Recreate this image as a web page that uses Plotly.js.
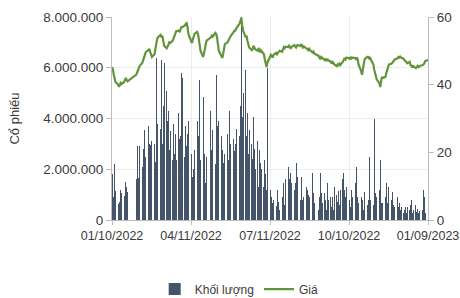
<!DOCTYPE html>
<html><head><meta charset="utf-8">
<script src="https://cdn.plot.ly/plotly-3.0.1.min.js"></script>
<style>html,body{margin:0;padding:0;background:#fff}#chart{width:460px;height:298px}</style>
</head><body><div id="chart"></div>
<script>
// Trading days (mm/dd/yyyy axis labels)
const dates = [
"2022-01-10","2022-01-11","2022-01-12","2022-01-13","2022-01-14","2022-01-17","2022-01-18","2022-01-19","2022-01-20","2022-01-21","2022-01-24","2022-01-25","2022-01-26","2022-01-27","2022-01-28",
"2022-02-07","2022-02-08","2022-02-09","2022-02-10","2022-02-11","2022-02-14","2022-02-15","2022-02-16","2022-02-17","2022-02-18","2022-02-21","2022-02-22","2022-02-23","2022-02-24","2022-02-25","2022-02-28",
"2022-03-01","2022-03-02","2022-03-03","2022-03-04","2022-03-07","2022-03-08","2022-03-09","2022-03-10","2022-03-11","2022-03-14","2022-03-15","2022-03-16","2022-03-17","2022-03-18","2022-03-21","2022-03-22","2022-03-23","2022-03-24","2022-03-25","2022-03-28","2022-03-29","2022-03-30","2022-03-31",
"2022-04-01","2022-04-04","2022-04-05","2022-04-06","2022-04-07","2022-04-08","2022-04-12","2022-04-13","2022-04-14","2022-04-15","2022-04-18","2022-04-19","2022-04-20","2022-04-21","2022-04-22","2022-04-25","2022-04-26","2022-04-27","2022-04-28","2022-04-29",
"2022-05-04","2022-05-05","2022-05-06","2022-05-09","2022-05-10","2022-05-11","2022-05-12","2022-05-13","2022-05-16","2022-05-17","2022-05-18","2022-05-19","2022-05-20","2022-05-23","2022-05-24","2022-05-25","2022-05-26","2022-05-27","2022-05-30","2022-05-31",
"2022-06-01","2022-06-02","2022-06-03","2022-06-06","2022-06-07","2022-06-08","2022-06-09","2022-06-10","2022-06-13","2022-06-14","2022-06-15","2022-06-16","2022-06-17","2022-06-20","2022-06-21","2022-06-22","2022-06-23","2022-06-24","2022-06-27","2022-06-28","2022-06-29","2022-06-30",
"2022-07-01","2022-07-04","2022-07-05","2022-07-06","2022-07-07","2022-07-08","2022-07-11","2022-07-12","2022-07-13","2022-07-14","2022-07-15","2022-07-18","2022-07-19","2022-07-20","2022-07-21","2022-07-22","2022-07-25","2022-07-26","2022-07-27","2022-07-28","2022-07-29",
"2022-08-01","2022-08-02","2022-08-03","2022-08-04","2022-08-05","2022-08-08","2022-08-09","2022-08-10","2022-08-11","2022-08-12","2022-08-15","2022-08-16","2022-08-17","2022-08-18","2022-08-19","2022-08-22","2022-08-23","2022-08-24","2022-08-25","2022-08-26","2022-08-29","2022-08-30","2022-08-31",
"2022-09-05","2022-09-06","2022-09-07","2022-09-08","2022-09-09","2022-09-12","2022-09-13","2022-09-14","2022-09-15","2022-09-16","2022-09-19","2022-09-20","2022-09-21","2022-09-22","2022-09-23","2022-09-26","2022-09-27","2022-09-28","2022-09-29","2022-09-30",
"2022-10-03","2022-10-04","2022-10-05","2022-10-06","2022-10-07","2022-10-10","2022-10-11","2022-10-12","2022-10-13","2022-10-14","2022-10-17","2022-10-18","2022-10-19","2022-10-20","2022-10-21","2022-10-24","2022-10-25","2022-10-26","2022-10-27","2022-10-28","2022-10-31",
"2022-11-01","2022-11-02","2022-11-03","2022-11-04","2022-11-07","2022-11-08","2022-11-09","2022-11-10","2022-11-11","2022-11-14","2022-11-15","2022-11-16","2022-11-17","2022-11-18","2022-11-21","2022-11-22","2022-11-23","2022-11-24","2022-11-25","2022-11-28","2022-11-29","2022-11-30",
"2022-12-01","2022-12-02","2022-12-05","2022-12-06","2022-12-07","2022-12-08","2022-12-09","2022-12-12","2022-12-13","2022-12-14","2022-12-15","2022-12-16","2022-12-19","2022-12-20","2022-12-21","2022-12-22","2022-12-23","2022-12-26","2022-12-27","2022-12-28","2022-12-29","2022-12-30",
"2023-01-03","2023-01-04","2023-01-05","2023-01-06","2023-01-09"
];

// Khối lượng (shares)
const volume = [
2700000,1800000,900000,2200000,1150000,650000,600000,700000,1200000,1050000,950000,1000000,1500000,1300000,1100000,
1600000,2900000,1650000,1500000,2900000,2100000,2800000,3550000,3200000,2500000,3700000,3000000,2950000,2400000,3100000,3000000,
2300000,6400000,3800000,4850000,3600000,6300000,3000000,4500000,6200000,5100000,3900000,4300000,2750000,3500000,2350000,3800000,2600000,3400000,2350000,4200000,3200000,3300000,5800000,
5600000,2500000,3700000,2900000,3400000,3900000,2600000,1700000,2000000,2750000,2000000,3900000,3300000,5500000,2350000,4850000,2600000,1850000,1450000,2500000,
4300000,2750000,3550000,2200000,5700000,3700000,2350000,3900000,3300000,2750000,2250000,3800000,2600000,3400000,2350000,4300000,3000000,2000000,3200000,2700000,
3000000,3600000,4500000,3300000,4500000,8000000,4050000,5000000,5900000,3300000,4200000,2600000,3550000,3000000,2400000,4050000,2800000,2000000,3100000,1300000,2750000,2250000,
2000000,1300000,2350000,1800000,1200000,6000000,1700000,1200000,900000,670000,800000,550000,400000,1200000,700000,400000,900000,1100000,1450000,600000,1600000,
2100000,1600000,1200000,1850000,1450000,1200000,1450000,800000,2250000,1700000,800000,1700000,800000,1450000,900000,1300000,1200000,1000000,400000,900000,1850000,1050000,670000,
400000,900000,1850000,1050000,670000,1050000,800000,400000,1450000,800000,900000,500000,900000,400000,1300000,1000000,700000,1150000,600000,1200000,
1600000,1850000,1200000,900000,1300000,1050000,800000,500000,1200000,900000,1450000,670000,2100000,900000,670000,900000,500000,800000,400000,1100000,600000,
800000,400000,2500000,800000,600000,4000000,670000,1050000,900000,1200000,2350000,670000,400000,670000,900000,1450000,670000,1300000,500000,800000,1100000,600000,
500000,800000,900000,500000,670000,400000,500000,270000,400000,500000,270000,500000,400000,600000,800000,270000,400000,600000,300000,450000,270000,350000,
400000,1200000,900000,270000,2100000
];

// Giá
const price = [
45.2,44.5,43.0,41.8,40.8,40.0,39.4,39.8,40.5,40.2,40.8,41.5,42.0,41.3,41.0,
43.0,43.8,44.5,45.0,45.6,46.5,47.5,47.9,48.8,49.7,50.2,50.6,49.7,48.8,48.2,49.0,
51.0,52.5,53.5,54.0,54.7,54.0,54.5,53.0,51.5,50.8,51.2,51.8,52.5,52.3,53.0,53.8,54.5,55.0,55.8,56.0,55.5,56.5,57.0,
57.0,57.5,58.0,58.2,57.0,55.0,52.3,53.0,54.0,55.0,55.6,55.0,53.5,51.5,50.0,48.2,49.0,50.5,52.0,53.0,
54.0,54.5,54.2,55.3,55.0,54.0,52.0,50.0,48.5,47.9,49.0,50.5,52.0,52.5,53.0,53.2,54.0,54.5,55.5,56.0,
56.0,56.5,57.0,58.0,59.0,59.8,57.5,56.0,54.0,54.5,53.0,52.0,51.0,50.2,50.5,51.5,51.0,50.5,50.0,50.8,50.5,49.5,
50.0,49.0,47.5,46.5,45.2,46.5,48.0,48.8,48.5,48.0,48.8,49.4,49.0,49.5,49.7,50.0,49.7,50.5,51.1,50.8,51.2,
51.1,51.5,51.0,50.8,51.2,51.7,51.3,51.0,51.5,51.7,51.4,52.0,51.5,51.0,51.3,50.8,50.5,50.2,50.6,50.2,49.5,49.8,49.2,
48.5,48.0,47.5,48.2,47.9,47.3,47.5,47.0,47.6,47.2,46.8,46.2,46.7,46.5,46.0,45.5,46.0,45.8,46.2,45.8,
46.8,47.5,47.9,47.5,48.0,47.9,47.5,48.2,47.8,48.0,47.9,47.6,48.0,47.5,46.0,44.0,42.9,44.5,46.0,47.5,48.2,
48.2,47.8,48.2,47.5,46.0,44.5,43.7,43.0,41.5,40.5,39.3,41.0,42.3,42.0,42.3,43.5,44.5,45.5,46.0,46.2,46.5,46.7,
47.0,47.5,47.8,48.2,48.0,48.3,48.0,47.6,47.2,47.0,46.7,46.3,46.7,45.5,45.8,45.0,45.5,44.9,45.2,45.5,45.0,45.5,
45.8,46.0,46.5,47.0,47.3
];

const xTickVals = ["2022-01-10","2022-04-11","2022-07-11","2022-10-10","2023-01-09"];
const xTickText = ["01/10/2022","04/11/2022","07/11/2022","10/10/2022","01/09/2023"];
const yTickVals = [0,2000000,4000000,6000000,8000000];
const yTickText = ["0","2.000.000","4.000.000","6.000.000","8.000.000"];
const y2TickVals = [0,20,40,60];

const font = {family:"Liberation Sans, Arial, sans-serif", size:13, color:"#3a3a3a"};

const traces = [
  {type:"bar", name:"Khối lượng", x:dates, y:volume, marker:{color:"#44546A"},
   width:95000000, yaxis:"y"},
  {type:"scatter", mode:"lines", name:"Giá", x:dates, y:price, yaxis:"y2",
   line:{color:"#62953A", width:2.2}}
];

const layout = {
  width:460, height:298,
  margin:{l:112, r:32, t:17, b:78},
  paper_bgcolor:"#fff", plot_bgcolor:"#fff",
  font:font,
  showlegend:true,
  bargap:0,
  xaxis:{type:"date", range:["2022-01-10","2023-01-09"], tickvals:xTickVals, ticktext:xTickText,
    showgrid:true, gridcolor:"#ececec", showline:true, linecolor:"#bdbdbd", ticks:"outside",
    ticklen:4, tickcolor:"#bdbdbd", tickfont:{size:12.5}, zeroline:false, fixedrange:true},
  yaxis:{range:[0,8000000], tickvals:yTickVals, ticktext:yTickText, showgrid:true, gridcolor:"#ececec",
    showline:true, linecolor:"#bdbdbd", ticks:"outside", ticklen:5, tickcolor:"#bdbdbd",
    tickfont:{size:13.5}, zeroline:false, title:{text:"Cổ phiếu", font:{size:13}, standoff:20}},
  yaxis2:{range:[0,60], tickvals:y2TickVals, overlaying:"y", side:"right", showgrid:false,
    showline:true, linecolor:"#bdbdbd", ticks:"outside", ticklen:5, tickcolor:"#bdbdbd",
    tickfont:{size:13.5}, zeroline:false},
  legend:{orientation:"h", xref:"container", yref:"container", x:0.52, xanchor:"center",
    y:0.03, yanchor:"middle", font:{size:12}, traceorder:"normal"}
};

Plotly.newPlot("chart", traces, layout, {staticPlot:true, displayModeBar:false});
</script></body></html>
